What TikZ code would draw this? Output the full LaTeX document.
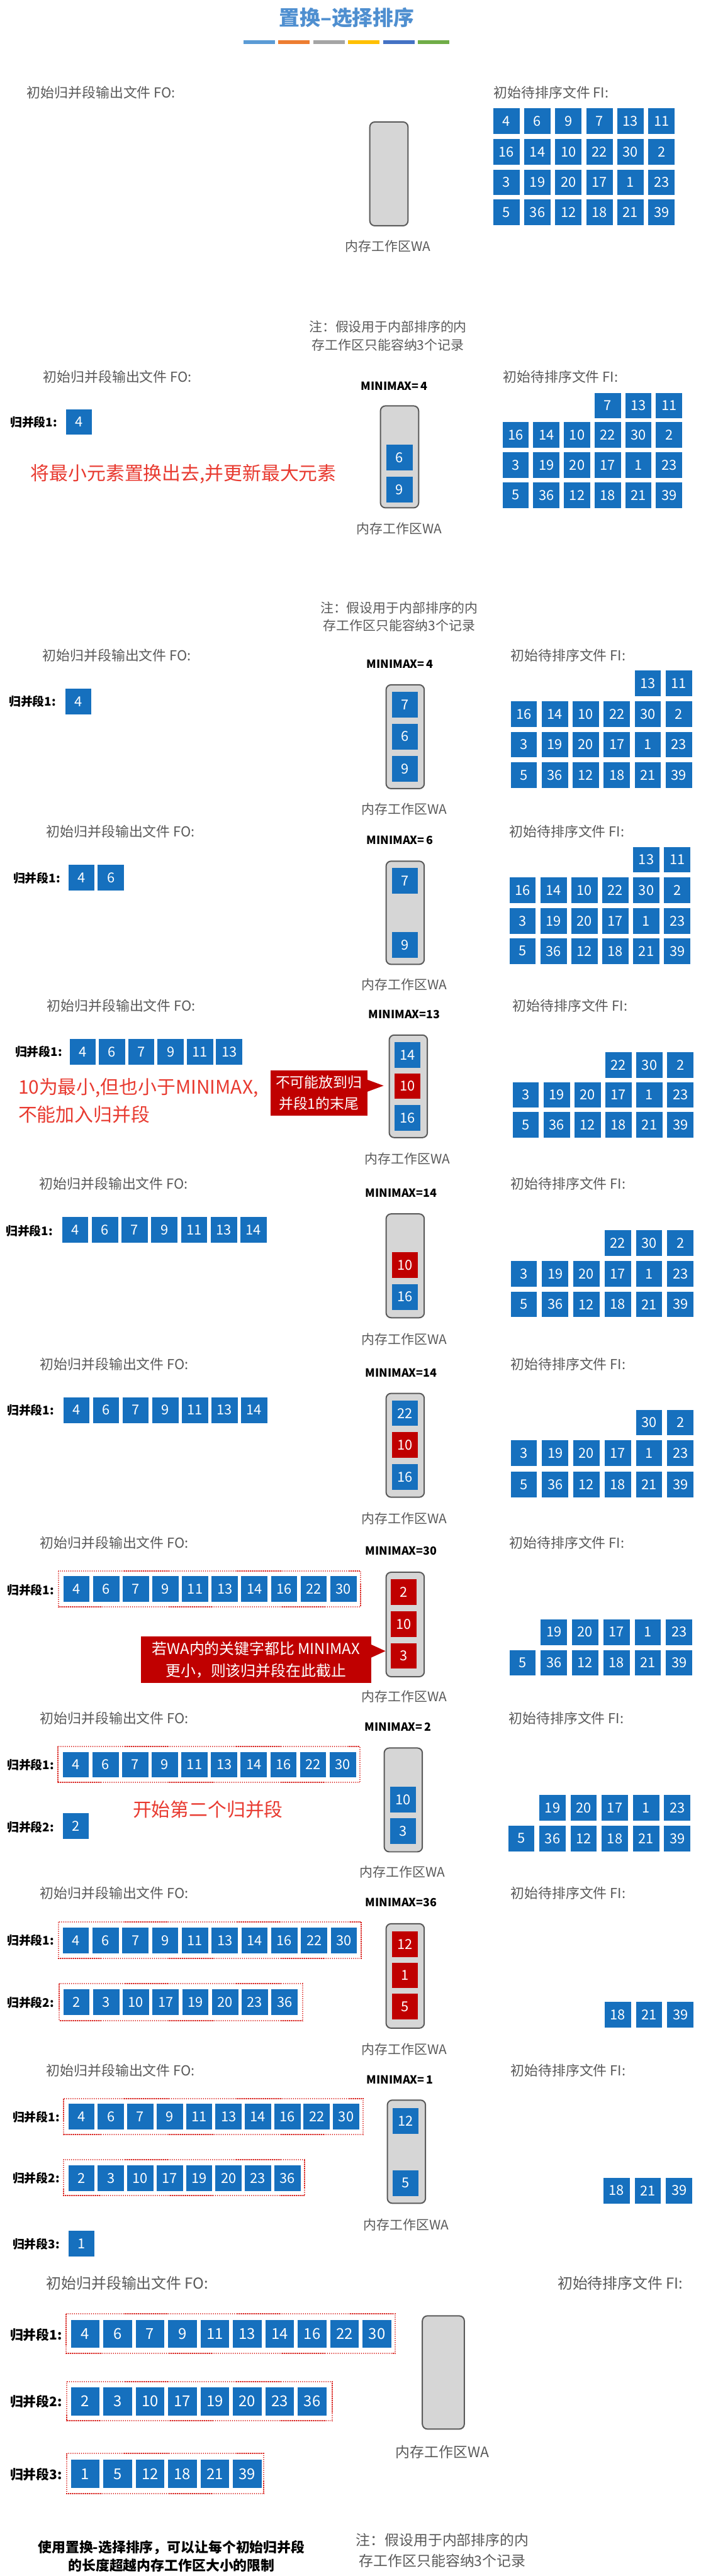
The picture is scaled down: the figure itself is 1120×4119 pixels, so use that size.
\documentclass[tikz,border=0pt]{standalone}
\usepackage{fontspec}
\setmainfont{Noto Sans CJK SC}
\usepackage{tikz}
\definecolor{Cell}{HTML}{1670BE}
\definecolor{Hot}{HTML}{C00000}
\definecolor{Alert}{HTML}{E83A30}
\definecolor{Tag}{HTML}{4F8FD0}
\definecolor{Mute}{HTML}{595959}
\definecolor{Tray}{HTML}{D6D6D6}
\definecolor{Edge}{HTML}{5A5A5A}
\definecolor{Dot}{HTML}{D8201C}
\definecolor{BarA}{HTML}{5B9BD5}
\definecolor{BarB}{HTML}{ED7D31}
\definecolor{BarC}{HTML}{A5A5A5}
\definecolor{BarD}{HTML}{FFC000}
\definecolor{BarE}{HTML}{4472C4}
\definecolor{BarF}{HTML}{70AD47}

\begin{document}
\begin{tikzpicture}[x=1pt,y=-1pt,
  rec/.style={anchor=north west,fill=Cell,text=white,minimum width=42pt,minimum height=41pt,inner sep=0pt,font=\fontsize{22}{22}\selectfont},
  hot/.style={rec,fill=Hot},
  big/.style={rec,minimum width=46pt,minimum height=45pt,font=\fontsize{24}{24}\selectfont},
  tray/.style={anchor=north west,draw=Edge,line width=2pt,fill=Tray,rounded corners=8pt,minimum width=61pt,minimum height=166pt,inner sep=0pt},
  lbl/.style={anchor=west,inner sep=0pt,text=Mute,font=\fontsize{22}{22}\selectfont},
  seg/.style={anchor=west,inner sep=0pt,font=\bfseries\fontsize{19}{19}\selectfont},
  mm/.style={inner sep=0pt,font=\bfseries\fontsize{18}{18}\selectfont},
  walbl/.style={inner sep=0pt,text=Mute,font=\fontsize{21}{21}\selectfont},
  note/.style={inner sep=0pt,text=Mute,align=center,font=\fontsize{21}{29}\selectfont},
  alert/.style={anchor=west,inner sep=0pt,text=Alert,align=left,font=\fontsize{30}{45}\selectfont},
  callout/.style={fill=Hot,text=white,align=center,inner sep=0pt},
  run/.style={Dot,line width=2pt,dash pattern=on 1.4pt off 1.6pt}]
  \useasboundingbox (0,0) rectangle (1120,4119);

  % title
  \node[font=\bfseries\fontsize{33}{33}\selectfont,text=Tag] (title) at (554,28) {置换–选择排序};
  \foreach \c [count=\i] in {BarA,BarB,BarC,BarD,BarE,BarF}
    \fill[\c] ({389+55.8*(\i-1)},64) rectangle +(50,6);

  % step 1
  \node[lbl] (fo1) at (43,148) {初始归并段输出文件 FO:};
  \node[lbl] (fi1) at (789,148) {初始待排序文件 FI:};
  \foreach \row/\s/\y [count=\r] in {{4,6,9,7,13,11}/1/173,{16,14,10,22,30,2}/1/222,
      {3,19,20,17,1,23}/1/271,{5,36,12,18,21,39}/1/319}
    \foreach \v [count=\i from \s] in \row
      \node[rec] (a1-\r-\i) at ({788+49.6*(\i-1)},\y) {\v};
  \node[tray] (wa1) at (590,194) {};
  \node[walbl] (wt1) at (620,394) {内存工作区WA};

  % step 2
  \node[note] (nb2) at (620,537) {注：假设用于内部排序的内\\存工作区只能容纳3个记录};
  \node[lbl] (fo2) at (69,603) {初始归并段输出文件 FO:};
  \node[lbl] (fi2) at (804,603) {初始待排序文件 FI:};
  \node[mm] (mm2) at (630,617) {MINIMAX=\,4};
  \node[seg] (g2-1) at (16,675) {归并段1:};
  \node[rec] (o2-1-1) at (105,654) {4};
  \node[tray,minimum height=163pt] (wa2) at (607,648) {};
  \node[rec] (w2-2) at (617,711) {6};
  \node[rec] (w2-3) at (617,762) {9};
  \node[walbl] (wt2) at (638,845) {内存工作区WA};
  \node[alert] (say2) at (49,758) {将最小元素置换出去,并更新最大元素};
  \foreach \row/\s/\y [count=\r] in {{7,13,11}/4/628,{16,14,10,22,30,2}/1/675,
      {3,19,20,17,1,23}/1/723,{5,36,12,18,21,39}/1/771}
    \foreach \v [count=\i from \s] in \row
      \node[rec] (a2-\r-\i) at ({803+49*(\i-1)},\y) {\v};

  % step 3
  \node[note] (nb3) at (638,986) {注：假设用于内部排序的内\\存工作区只能容纳3个记录};
  \node[lbl] (fo3) at (68,1048) {初始归并段输出文件 FO:};
  \node[lbl] (fi3) at (816,1048) {初始待排序文件 FI:};
  \node[mm] (mm3) at (639,1062) {MINIMAX=\,4};
  \node[seg] (g3-1) at (14,1122) {归并段1:};
  \node[rec] (o3-1-1) at (104,1101) {4};
  \node[tray] (wa3) at (616,1094) {};
  \node[rec] (w3-1) at (626,1106) {7};
  \node[rec] (w3-2) at (626,1157) {6};
  \node[rec] (w3-3) at (626,1209) {9};
  \node[walbl] (wt3) at (646,1294) {内存工作区WA};
  \foreach \row/\s/\y [count=\r] in {{13,11}/5/1072,{16,14,10,22,30,2}/1/1121,
      {3,19,20,17,1,23}/1/1170,{5,36,12,18,21,39}/1/1219}
    \foreach \v [count=\i from \s] in \row
      \node[rec] (a3-\r-\i) at ({816+49.5*(\i-1)},\y) {\v};

  % step 4
  \node[lbl] (fo4) at (74,1330) {初始归并段输出文件 FO:};
  \node[lbl] (fi4) at (814,1330) {初始待排序文件 FI:};
  \node[mm] (mm4) at (639,1343) {MINIMAX=\,6};
  \node[seg] (g4-1) at (21,1404) {归并段1:};
  \foreach \v [count=\i] in {4,6}
    \node[rec] (o4-1-\i) at ({109+47*(\i-1)},1383) {\v};
  \node[tray,minimum height=165pt] (wa4) at (616,1376) {};
  \node[rec] (w4-1) at (626,1388) {7};
  \node[rec] (w4-3) at (626,1490) {9};
  \node[walbl] (wt4) at (646,1574) {内存工作区WA};
  \foreach \row/\s/\y [count=\r] in {{13,11}/5/1354,{16,14,10,22,30,2}/1/1403,
      {3,19,20,17,1,23}/1/1452,{5,36,12,18,21,39}/1/1500}
    \foreach \v [count=\i from \s] in \row
      \node[rec] (a4-\r-\i) at ({814+49.4*(\i-1)},\y) {\v};

  % step 5
  \node[lbl] (fo5) at (75,1608) {初始归并段输出文件 FO:};
  \node[lbl] (fi5) at (819,1608) {初始待排序文件 FI:};
  \node[mm] (mm5) at (646,1622) {MINIMAX=13};
  \node[seg] (g5-1) at (24,1682) {归并段1:};
  \foreach \v [count=\i] in {4,6,7,9,11,13}
    \node[rec] (o5-1-\i) at ({111+46.8*(\i-1)},1661) {\v};
  \node[tray,minimum height=164pt] (wa5) at (621,1654) {};
  \node[rec] (w5-1) at (630,1666) {14};
  \node[hot] (w5-2) at (630,1716) {10};
  \node[rec] (w5-3) at (630,1767) {16};
  \node[walbl] (wt5) at (651,1853) {内存工作区WA};
  \node[callout,minimum width=155pt,minimum height=72pt,font=\fontsize{23}{34}\selectfont]
    (warn5) at (509.5,1748) {不可能放到归\\并段1的末尾};
  \fill[Hot] (586,1726) -- (613,1736) -- (586,1746) -- cycle;
  \node[alert] (say5) at (29,1760) {10为最小,但也小于MINIMAX,\\不能加入归并段};
  \foreach \row/\s/\y [count=\r] in {{22,30,2}/4/1682,
      {3,19,20,17,1,23}/1/1730,{5,36,12,18,21,39}/1/1778}
    \foreach \v [count=\i from \s] in \row
      \node[rec] (a5-\r-\i) at ({819+49.4*(\i-1)},\y) {\v};

  % step 6
  \node[lbl] (fo6) at (63,1893) {初始归并段输出文件 FO:};
  \node[lbl] (fi6) at (816,1893) {初始待排序文件 FI:};
  \node[mm] (mm6) at (641,1907) {MINIMAX=14};
  \node[seg] (g6-1) at (9,1968) {归并段1:};
  \foreach \v [count=\i] in {4,6,7,9,11,13,14}
    \node[rec] (o6-1-\i) at ({99+47.5*(\i-1)},1946) {\v};
  \node[tray] (wa6) at (616,1940) {};
  \node[hot] (w6-2) at (626,2002) {10};
  \node[rec] (w6-3) at (626,2053) {16};
  \node[walbl] (wt6) at (646,2142) {内存工作区WA};
  \foreach \row/\s/\y [count=\r] in {{22,30,2}/4/1967,
      {3,19,20,17,1,23}/1/2016,{5,36,12,18,21,39}/1/2065}
    \foreach \v [count=\i from \s] in \row
      \node[rec] (a6-\r-\i) at ({816+50*(\i-1)},\y) {\v};

  % step 7
  \node[lbl] (fo7) at (64,2181) {初始归并段输出文件 FO:};
  \node[lbl] (fi7) at (816,2181) {初始待排序文件 FI:};
  \node[mm] (mm7) at (641,2195) {MINIMAX=14};
  \node[seg] (g7-1) at (11,2255) {归并段1:};
  \foreach \v [count=\i] in {4,6,7,9,11,13,14}
    \node[rec] (o7-1-\i) at ({101+47.3*(\i-1)},2234) {\v};
  \node[tray] (wa7) at (616,2227) {};
  \node[rec] (w7-1) at (626,2239) {22};
  \node[hot] (w7-2) at (626,2290) {10};
  \node[rec] (w7-3) at (626,2341) {16};
  \node[walbl] (wt7) at (646,2428) {内存工作区WA};
  \foreach \row/\s/\y [count=\r] in {{30,2}/5/2254,
      {3,19,20,17,1,23}/1/2303,{5,36,12,18,21,39}/1/2353}
    \foreach \v [count=\i from \s] in \row
      \node[rec] (a7-\r-\i) at ({816+50*(\i-1)},\y) {\v};

  % step 8
  \node[lbl] (fo8) at (64,2467) {初始归并段输出文件 FO:};
  \node[lbl] (fi8) at (814,2467) {初始待排序文件 FI:};
  \node[mm] (mm8) at (641,2480) {MINIMAX=30};
  \node[seg] (g8-1) at (11,2542) {归并段1:};
  \foreach \v [count=\i] in {4,6,7,9,11,13,14,16,22,30}
    \node[rec] (o8-1-\i) at ({101+47.4*(\i-1)},2520) {\v};
  \draw[run] (94,2512) rectangle (576,2569);
  \node[tray,minimum height=167pt] (wa8) at (616,2513) {};
  \node[hot] (w8-1) at (624,2525) {2};
  \node[hot] (w8-2) at (624,2576) {10};
  \node[hot] (w8-3) at (624,2627) {3};
  \node[walbl] (wt8) at (646,2713) {内存工作区WA};
  \node[callout,minimum width=368pt,minimum height=74pt,font=\fontsize{24}{35}\selectfont]
    (warn8) at (409,2654) {若WA内的关键字都比 MINIMAX\\更小，则该归并段在此截止};
  \fill[Hot] (592,2629) -- (616,2640) -- (592,2651) -- cycle;
  \foreach \row/\s/\y [count=\r] in {{19,20,17,1,23}/2/2589,{5,36,12,18,21,39}/1/2638}
    \foreach \v [count=\i from \s] in \row
      \node[rec] (a8-\r-\i) at ({814+50*(\i-1)},\y) {\v};

  % step 9
  \node[lbl] (fo9) at (64,2747) {初始归并段输出文件 FO:};
  \node[lbl] (fi9) at (813,2747) {初始待排序文件 FI:};
  \node[mm] (mm9) at (636,2761) {MINIMAX=\,2};
  \node[seg] (g9-1) at (11,2822) {归并段1:};
  \foreach \v [count=\i] in {4,6,7,9,11,13,14,16,22,30}
    \node[rec] (o9-1-\i) at ({100+47.4*(\i-1)},2801) {\v};
  \draw[run] (93,2793) rectangle (575,2850);
  \node[seg] (g9-2) at (11,2922) {归并段2:};
  \node[rec] (o9-2-1) at (100,2899) {2};
  \node[alert] (say9) at (212,2893) {开始第二个归并段};
  \node[tray] (wa9) at (613,2794) {};
  \node[rec] (w9-2) at (623,2857) {10};
  \node[rec] (w9-3) at (623,2907) {3};
  \node[walbl] (wt9) at (643,2993) {内存工作区WA};
  \foreach \row/\s/\y [count=\r] in {{19,20,17,1,23}/2/2870,{5,36,12,18,21,39}/1/2919}
    \foreach \v [count=\i from \s] in \row
      \node[rec] (a9-\r-\i) at ({812+49.8*(\i-1)},\y) {\v};

  % step 10
  \node[lbl] (fo10) at (64,3027) {初始归并段输出文件 FO:};
  \node[lbl] (fi10) at (816,3027) {初始待排序文件 FI:};
  \node[mm] (mm10) at (641,3042) {MINIMAX=36};
  \node[seg] (g10-1) at (11,3103) {归并段1:};
  \foreach \v [count=\i] in {4,6,7,9,11,13,14,16,22,30}
    \node[rec] (o10-1-\i) at ({100+47.6*(\i-1)},3082) {\v};
  \draw[run] (94,3073) rectangle (577,3131);
  \node[seg] (g10-2) at (11,3202) {归并段2:};
  \foreach \v [count=\i] in {2,3,10,17,19,20,23,36}
    \node[rec] (o10-2-\i) at ({101+47.5*(\i-1)},3181) {\v};
  \draw[run] (95,3172) rectangle (484,3231);
  \node[tray,minimum height=167pt] (wa10) at (616,3075) {};
  \node[hot] (w10-1) at (626,3088) {12};
  \node[hot] (w10-2) at (626,3138) {1};
  \node[hot] (w10-3) at (626,3188) {5};
  \node[walbl] (wt10) at (646,3277) {内存工作区WA};
  \foreach \v [count=\i from 4] in {18,21,39}
    \node[rec] (a10-1-\i) at ({816+50*(\i-1)},3201) {\v};

  % step 11
  \node[lbl] (fo11) at (74,3311) {初始归并段输出文件 FO:};
  \node[lbl] (fi11) at (816,3311) {初始待排序文件 FI:};
  \node[mm] (mm11) at (639,3325) {MINIMAX=\,1};
  \node[seg] (g11-1) at (20,3385) {归并段1:};
  \foreach \v [count=\i] in {4,6,7,9,11,13,14,16,22,30}
    \node[rec] (o11-1-\i) at ({109+47*(\i-1)},3364) {\v};
  \draw[run] (102,3356) rectangle (580,3413);
  \node[seg] (g11-2) at (20,3483) {归并段2:};
  \foreach \v [count=\i] in {2,3,10,17,19,20,23,36}
    \node[rec] (o11-2-\i) at ({109+47*(\i-1)},3462) {\v};
  \draw[run] (102,3453) rectangle (487,3511);
  \node[seg] (g11-3) at (20,3588) {归并段3:};
  \node[rec] (o11-3-1) at (109,3567) {1};
  \node[tray,minimum height=165pt] (wa11) at (618,3357) {};
  \node[rec] (w11-1) at (627,3371) {12};
  \node[rec] (w11-3) at (627,3470) {5};
  \node[walbl] (wt11) at (649,3557) {内存工作区WA};
  \foreach \v [count=\i from 4] in {18,21,39}
    \node[rec] (a11-1-\i) at ({814+50*(\i-1)},3482) {\v};

  % step 12
  \node[lbl,font=\fontsize{24}{24}\selectfont] (fo12) at (74,3651) {初始归并段输出文件 FO:};
  \node[lbl,font=\fontsize{24}{24}\selectfont] (fi12) at (891,3651) {初始待排序文件 FI:};
  \foreach \row/\y [count=\r] in {{4,6,7,9,11,13,14,16,22,30}/3709,
      {2,3,10,17,19,20,23,36}/3817,{1,5,12,18,21,39}/3933}
    \foreach \v [count=\i] in \row
      \node[big] (o12-\r-\i) at ({113+51.8*(\i-1)},\y) {\v};
  \node[seg,font=\bfseries\fontsize{21}{21}\selectfont] (g12-1) at (16,3733) {归并段1:};
  \node[seg,font=\bfseries\fontsize{21}{21}\selectfont] (g12-2) at (16,3840) {归并段2:};
  \node[seg,font=\bfseries\fontsize{21}{21}\selectfont] (g12-3) at (16,3957) {归并段3:};
  \draw[run] (106,3700) rectangle (632,3763);
  \draw[run] (107,3808) rectangle (531,3871);
  \draw[run] (107,3923) rectangle (421,3987);
  \node[tray,minimum width=67pt,minimum height=181pt] (wa12) at (674,3702) {};
  \node[walbl,font=\fontsize{23}{23}\selectfont] (wt12) at (707,3921) {内存工作区WA};
  \node[inner sep=0pt,align=center,font=\bfseries\fontsize{22}{29}\selectfont]
    (sum) at (274,4087) {使用置换-选择排序，可以让每个初始归并段\\的长度超越内存工作区大小的限制};
  \node[note,font=\fontsize{23}{33}\selectfont] (nb12) at (707,4078) {注：假设用于内部排序的内\\存工作区只能容纳3个记录};
\end{tikzpicture}
\end{document}
